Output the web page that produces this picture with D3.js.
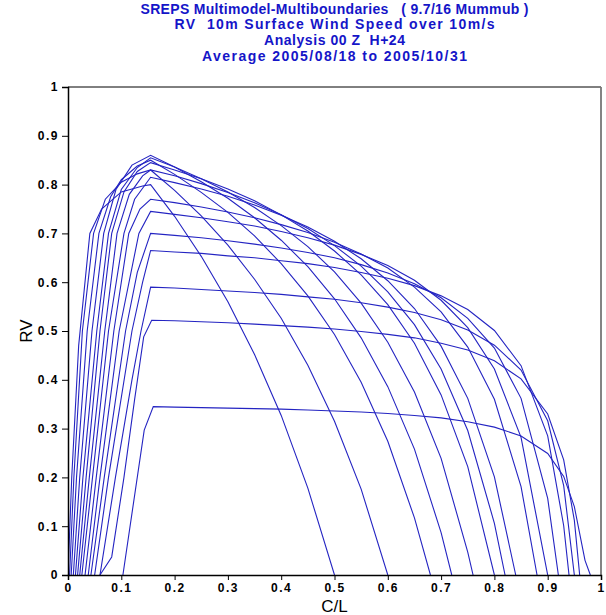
<!DOCTYPE html>
<html>
<head>
<meta charset="utf-8">
<script src="https://cdn.jsdelivr.net/npm/d3@7"></script>
<style>
  body { margin: 0; background: #fff; }
  svg { display: block; }
  text { white-space: pre; }
</style>
</head>
<body>
<svg id="chart" width="606" height="615"></svg>
<script>
// Title lines
const titleLines = [
  'SREPS Multimodel-Multiboundaries   ( 9.7/16 Mummub )',
  'RV  10m Surface Wind Speed over 10m/s',
  'Analysis 00 Z  H+24',
  'Average 2005/08/18 to 2005/10/31'
];
const titleWidths = [388, 320, 141, 265];
const xTicks = [0, 0.1, 0.2, 0.3, 0.4, 0.5, 0.6, 0.7, 0.8, 0.9, 1];
const yTicks = [0, 0.1, 0.2, 0.3, 0.4, 0.5, 0.6, 0.7, 0.8, 0.9, 1];

// RV curves, one per probability threshold: [C/L, RV]
const c01 = [[0,0],[0.007,0.2],[0.02,0.47],[0.041,0.7],[0.063,0.75],[0.1,0.785],[0.14,0.797],[0.155,0.80],[0.2,0.735],[0.25,0.653],[0.3,0.560],[0.35,0.452],[0.4,0.327],[0.45,0.178],[0.5,0]];
const c02 = [[0.003,0],[0.011,0.2],[0.027,0.5],[0.048,0.7],[0.07,0.77],[0.1,0.805],[0.13,0.822],[0.155,0.83],[0.2,0.788],[0.25,0.736],[0.3,0.676],[0.35,0.606],[0.4,0.526],[0.45,0.430],[0.5,0.315],[0.55,0.176],[0.6,0]];
const c03 = [[0.006,0],[0.016,0.2],[0.036,0.5],[0.058,0.7],[0.08,0.775],[0.1,0.81],[0.13,0.838],[0.155,0.85],[0.2,0.821],[0.25,0.784],[0.3,0.743],[0.35,0.695],[0.4,0.638],[0.45,0.572],[0.5,0.493],[0.55,0.395],[0.6,0.274],[0.65,0.117],[0.68,0]];
const c04 = [[0.01,0],[0.022,0.2],[0.045,0.5],[0.067,0.7],[0.09,0.79],[0.12,0.84],[0.155,0.86],[0.2,0.836],[0.25,0.806],[0.3,0.772],[0.35,0.732],[0.4,0.686],[0.45,0.632],[0.5,0.566],[0.55,0.486],[0.6,0.386],[0.65,0.258],[0.7,0.087],[0.72,0]];
const c05 = [[0.014,0],[0.028,0.2],[0.054,0.5],[0.076,0.7],[0.1,0.79],[0.13,0.835],[0.155,0.855],[0.2,0.836],[0.25,0.812],[0.3,0.785],[0.35,0.753],[0.4,0.716],[0.45,0.673],[0.5,0.621],[0.55,0.557],[0.6,0.477],[0.65,0.375],[0.7,0.239],[0.75,0.047],[0.76,0]];
const c06 = [[0.018,0],[0.034,0.2],[0.06,0.5],[0.082,0.7],[0.105,0.785],[0.13,0.827],[0.155,0.845],[0.2,0.830],[0.25,0.812],[0.3,0.791],[0.35,0.767],[0.4,0.738],[0.45,0.705],[0.5,0.664],[0.55,0.615],[0.6,0.554],[0.65,0.475],[0.7,0.369],[0.75,0.222],[0.8,0]];
const c07 = [[0.022,0],[0.04,0.2],[0.069,0.5],[0.092,0.7],[0.115,0.78],[0.14,0.818],[0.155,0.83],[0.2,0.818],[0.25,0.802],[0.3,0.784],[0.35,0.763],[0.4,0.738],[0.45,0.710],[0.5,0.675],[0.55,0.633],[0.6,0.580],[0.65,0.513],[0.7,0.422],[0.75,0.296],[0.8,0.106],[0.82,0]];
const c08 = [[0.026,0],[0.046,0.2],[0.076,0.5],[0.105,0.7],[0.125,0.77],[0.155,0.815],[0.2,0.804],[0.25,0.791],[0.3,0.776],[0.35,0.758],[0.4,0.737],[0.45,0.713],[0.5,0.684],[0.55,0.648],[0.6,0.603],[0.65,0.546],[0.7,0.469],[0.75,0.362],[0.8,0.201],[0.84,0]];
const c09 = [[0.032,0],[0.053,0.2],[0.086,0.5],[0.114,0.7],[0.135,0.75],[0.155,0.77],[0.2,0.763],[0.25,0.754],[0.3,0.744],[0.35,0.732],[0.4,0.718],[0.45,0.702],[0.5,0.682],[0.55,0.658],[0.6,0.629],[0.65,0.590],[0.7,0.539],[0.75,0.467],[0.8,0.360],[0.85,0.181],[0.88,0]];
const c10 = [[0.038,0],[0.06,0.2],[0.096,0.5],[0.133,0.7],[0.155,0.745],[0.2,0.739],[0.25,0.732],[0.3,0.724],[0.35,0.715],[0.4,0.704],[0.45,0.691],[0.5,0.676],[0.55,0.657],[0.6,0.634],[0.65,0.604],[0.7,0.563],[0.75,0.507],[0.8,0.422],[0.85,0.282],[0.9,0]];
const c11 = [[0.043,0],[0.068,0.2],[0.108,0.5],[0.13,0.62],[0.155,0.70],[0.2,0.696],[0.25,0.691],[0.3,0.685],[0.35,0.678],[0.4,0.670],[0.45,0.661],[0.5,0.650],[0.55,0.636],[0.6,0.619],[0.65,0.597],[0.7,0.568],[0.75,0.526],[0.8,0.465],[0.85,0.362],[0.9,0.157],[0.92,0]];
const c12 = [[0.05,0],[0.076,0.2],[0.12,0.5],[0.14,0.6],[0.155,0.665],[0.2,0.662],[0.25,0.659],[0.3,0.654],[0.35,0.650],[0.4,0.644],[0.45,0.638],[0.5,0.630],[0.55,0.620],[0.6,0.608],[0.65,0.593],[0.7,0.572],[0.75,0.544],[0.8,0.501],[0.85,0.429],[0.9,0.285],[0.93,0.101],[0.94,0]];
const c13 = [[0.06,0],[0.089,0.2],[0.12,0.4],[0.137,0.5],[0.155,0.59],[0.2,0.588],[0.25,0.585],[0.3,0.582],[0.35,0.579],[0.4,0.575],[0.45,0.570],[0.5,0.565],[0.55,0.558],[0.6,0.549],[0.65,0.538],[0.7,0.523],[0.75,0.502],[0.8,0.471],[0.85,0.420],[0.9,0.316],[0.93,0.183],[0.95,0]];
const c14 = [[0.06,0],[0.082,0.037],[0.105,0.2],[0.125,0.36],[0.142,0.488],[0.157,0.522],[0.2,0.521],[0.25,0.519],[0.3,0.517],[0.35,0.514],[0.4,0.511],[0.45,0.508],[0.5,0.504],[0.55,0.499],[0.6,0.493],[0.65,0.486],[0.7,0.475],[0.75,0.461],[0.8,0.439],[0.85,0.402],[0.9,0.330],[0.93,0.236],[0.95,0.112],[0.96,0]];
const c15 = [[0.103,0],[0.143,0.297],[0.16,0.345],[0.2,0.344],[0.25,0.343],[0.3,0.342],[0.35,0.341],[0.4,0.340],[0.45,0.338],[0.5,0.336],[0.55,0.334],[0.6,0.331],[0.65,0.327],[0.7,0.322],[0.75,0.314],[0.8,0.303],[0.85,0.285],[0.9,0.249],[0.93,0.202],[0.95,0.140],[0.97,0.03],[0.98,0]];
const curves = [c01, c02, c03, c04, c05, c06, c07, c08, c09, c10, c11, c12, c13, c14, c15];

const svg = d3.select('#chart');
const mLeft = 68, mRight = 601, mTop = 87, mBottom = 575;
const x = d3.scaleLinear().domain([0, 1]).range([mLeft, mRight]);
const y = d3.scaleLinear().domain([0, 1]).range([mBottom, mTop]);
const fmt = d => d === 0 ? '0' : d === 1 ? '1' : d3.format('.1f')(d);

// title
svg.append('g').selectAll('text')
  .data(titleLines)
  .enter().append('text')
  .attr('x', (mLeft + mRight) / 2)
  .attr('y', (d, i) => 13.5 + i * 15.7)
  .attr('text-anchor', 'middle')
  .attr('font-family', 'Liberation Sans, Arial, sans-serif')
  .attr('font-weight', 'bold')
  .attr('font-size', 14)
  .attr('textLength', (d, i) => titleWidths[i])
  .attr('lengthAdjust', 'spacing')
  .attr('fill', '#1515c8')
  .text(d => d);

// curves
svg.append('clipPath').attr('id', 'plot-clip')
  .append('rect').attr('x', mLeft).attr('y', mTop).attr('width', mRight - mLeft).attr('height', mBottom - mTop);
const line = d3.line().x(d => x(d[0])).y(d => y(d[1]));
svg.append('g').attr('clip-path', 'url(#plot-clip)')
  .selectAll('path')
  .data(curves)
  .enter().append('path')
  .attr('fill', 'none')
  .attr('stroke', '#2424c2')
  .attr('stroke-width', 1.1)
  .attr('d', line);

// frame
svg.append('line').attr('x1', mLeft).attr('x2', mRight).attr('y1', mTop).attr('y2', mTop).attr('stroke', '#000');
svg.append('line').attr('x1', mRight).attr('x2', mRight).attr('y1', mTop).attr('y2', mBottom).attr('stroke', '#777').attr('stroke-width', 1.8);

// axes
const xAxis = svg.append('g').attr('transform', `translate(0,${mBottom})`)
  .call(d3.axisBottom(x).tickValues(xTicks).tickFormat(fmt).tickSize(5).tickPadding(3));
const yAxis = svg.append('g').attr('transform', `translate(${mLeft},0)`)
  .call(d3.axisLeft(y).tickValues(yTicks).tickFormat(fmt).tickSize(6).tickPadding(3));
[xAxis, yAxis].forEach(a => {
  a.select('.domain').attr('stroke', '#000').attr('stroke-width', 1.5);
  a.selectAll('.tick line').attr('stroke', '#000');
  a.selectAll('.tick text')
    .attr('font-family', 'Liberation Sans, Arial, sans-serif')
    .attr('font-weight', 'bold')
    .attr('font-size', 12)
    .attr('letter-spacing', 1.5)
    .attr('fill', '#000');
});

// axis titles
svg.append('text')
  .attr('x', (mLeft + mRight) / 2).attr('y', 612)
  .attr('text-anchor', 'middle')
  .attr('font-family', 'Liberation Sans, Arial, sans-serif')
  .attr('font-size', 17)
  .text('C/L');
svg.append('text')
  .attr('transform', `translate(32,${(mTop + mBottom) / 2}) rotate(-90)`)
  .attr('text-anchor', 'middle')
  .attr('font-family', 'Liberation Sans, Arial, sans-serif')
  .attr('font-size', 17)
  .text('RV');
</script>
</body>
</html>
